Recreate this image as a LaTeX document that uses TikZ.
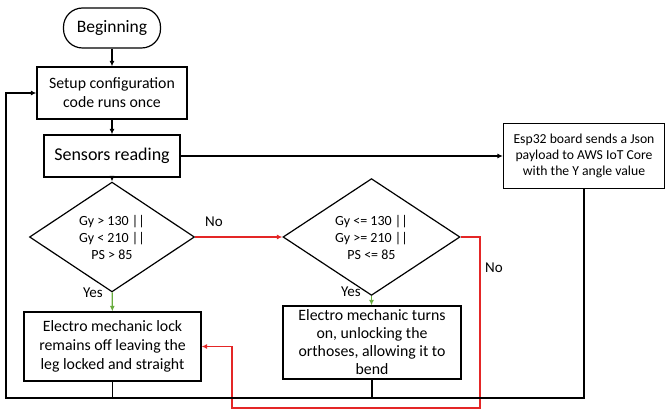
\documentclass[tikz,border=0pt]{standalone}
\usepackage{fontspec}
\setmainfont{Carlito}
\usetikzlibrary{positioning,arrows.meta,shapes.geometric}
\definecolor{nored}{RGB}{228,38,38}
\definecolor{yesgreen}{RGB}{104,172,62}
\tikzset{
  box/.style   ={draw, line width=1.2pt, align=center, inner sep=2pt,
                 font=\fontsize{15.8}{19}\selectfont},
  term/.style  ={box, rounded corners=19pt, minimum width=97pt, minimum height=40pt,
                 font=\fontsize{17.5}{19}\selectfont},
  dec/.style   ={draw, line width=1.2pt, diamond, inner sep=0pt, align=center,
                 minimum width=165pt, minimum height=88pt,
                 font=\fontsize{14}{17}\selectfont},
  lbl/.style   ={font=\fontsize{15}{17}\selectfont},
  fl/.style    ={-{Latex[length=5.5pt,width=5pt]}, line width=1.2pt},
  nofl/.style  ={fl, draw=nored},
  yesfl/.style ={fl, draw=yesgreen},
}

\begin{document}
\begin{tikzpicture}[x=1pt,y=1pt]
  \useasboundingbox (0,0) rectangle (666,410);

  % start and setup
  \node[term](beg) at (112,382) {Beginning};
  \node[box, minimum width=150pt, minimum height=52pt](setup) at (112,317)
        {Setup configuration\\ code runs once};
  \node[box, minimum width=136pt, minimum height=42pt,
        font=\fontsize{18}{20}\selectfont](sens) at (112,254) {Sensors reading};
  \node[box, minimum width=161pt, minimum height=65pt,
        font=\fontsize{13.7}{16}\selectfont](esp) at (584,254)
        {Esp32 board sends a Json\\ payload to AWS IoT Core\\ with the Y angle value};

  % the two checks
  \node[dec](chk1) at (112,173) {Gy > 130 ||\\ Gy < 210 ||\\ PS > 85};
  \node[dec, minimum width=177pt](chk2) at (371.5,173) {Gy <= 130 ||\\ Gy >= 210 ||\\ PS <= 85};

  % actions
  \node[box, minimum width=177pt, minimum height=69pt](lock) at (112.5,63.5)
        {Electro mechanic lock\\ remains off leaving the\\ leg locked and straight};
  \node[box, minimum width=178pt, minimum height=73pt,
        font=\fontsize{15.8}{18}\selectfont](unlock) at (372,67.5)
        {Electro mechanic turns\\ on, unlocking the\\ orthoses, allowing it to\\ bend};

  \coordinate (lb) at (6,12);
  \coordinate (rb) at (480,2);
  \coordinate (rc) at (232,2);

  \draw[fl](beg)--(setup);
  \draw[fl](setup)--(sens);
  \draw[fl](sens.east)--(sens.east -| esp.west);
  \draw[fl](sens)--(chk1);
  \draw[nofl](chk1)--(chk2);
  \draw[yesfl](chk1)--(lock);
  \draw[yesfl](chk2.south)--(chk2.south |- unlock.north);
  \draw[nofl](chk2.east) -| (rb) -- (rc) |- (lock.east);

  % back to setup
  \draw[line width=1.2pt](lock.south)--(lock.south |- lb);
  \draw[line width=1.2pt](unlock.south)--(unlock.south |- lb);
  \draw[fl](esp.south) |- (lb) |- (setup.west);

  \node[lbl](no1)  at (214,188) {No};
  \node[lbl](yes1) at (93,117)  {Yes};
  \node[lbl](yes2) at (351,118) {Yes};
  \node[lbl](no2)  at (494,142) {No};
\end{tikzpicture}
\end{document}
